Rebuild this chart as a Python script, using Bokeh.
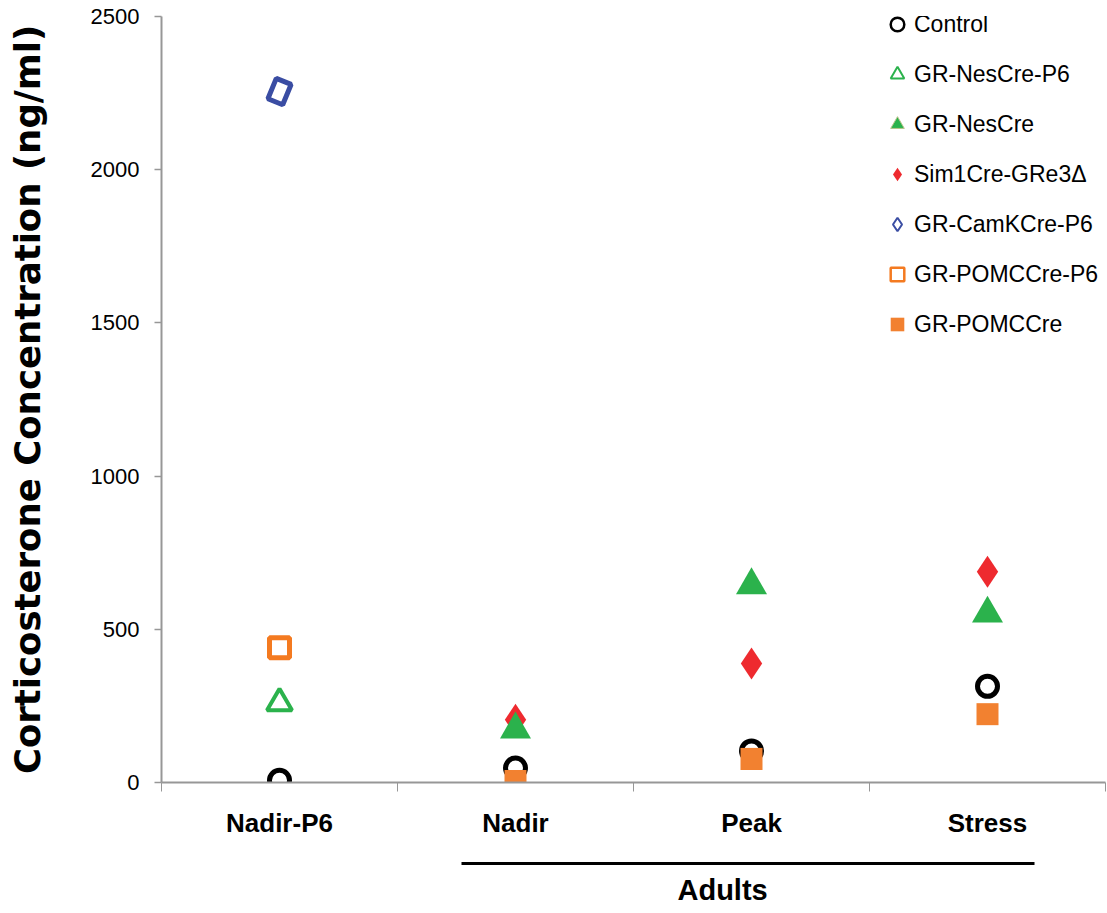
from bokeh.plotting import figure
from bokeh.models import (ColumnDataSource, FactorRange, Range1d, LinearAxis, CategoricalAxis,
                          SingleIntervalTicker, FixedTicker, Legend, LegendItem, Title)
from bokeh.embed import file_html
from bokeh.resources import INLINE

# ---------------- data ----------------
categories = ["Nadir-P6", "Nadir", "Peak", "Stress"]
adult_categories = ["Nadir", "Peak", "Stress"]
group_label = "Adults"
y_label = "Corticosterone Concentration (ng/ml)"
y_max = 2500
y_step = 500

control = [7, 47, 103, 314]
gr_nescre_p6 = [259, None, None, None]
gr_nescre = [None, 173, 644, 551]
sim1cre_gre3d = [None, 205, 388, 688]
gr_camkcre_p6 = [2255, None, None, None]
gr_pomccre_p6 = [440, None, None, None]
gr_pomccre = [None, 5, 77, 223]

series = [
    ("Control", control),
    ("GR-NesCre-P6", gr_nescre_p6),
    ("GR-NesCre", gr_nescre),
    ("Sim1Cre-GRe3\u0394", sim1cre_gre3d),
    ("GR-CamKCre-P6", gr_camkcre_p6),
    ("GR-POMCCre-P6", gr_pomccre_p6),
    ("GR-POMCCre", gr_pomccre),
]

FONT = "Liberation Sans"
GREEN = "#2BB24C"
RED = "#EE2A2F"
BLUE = "#3A4DA3"
ORANGE_O = "#F47A20"
ORANGE_F = "#F28130"
AXIS_GRAY = "#979797"

styles = {
    "Control": dict(marker="circle", size=20, fill_color="white", line_color="black", line_width=5),
    "GR-NesCre-P6": dict(marker="triangle", size=25, fill_color="white", line_color=GREEN, line_width=4),
    "GR-NesCre": dict(marker="triangle", size=31, fill_color=GREEN, line_color=None),
    "Sim1Cre-GRe3\u0394": dict(marker="diamond", size=32, fill_color=RED, line_color=None),
    "GR-CamKCre-P6": None,
    "GR-POMCCre-P6": dict(marker="square", size=20, fill_color="white", line_color=ORANGE_O, line_width=5),
    "GR-POMCCre": dict(marker="square", size=22, fill_color=ORANGE_F, line_color=None),
}
legend_styles = {
    "Control": dict(marker="circle", fill_color="white", line_color="black", line_width=2.5),
    "GR-NesCre-P6": dict(marker="triangle", fill_color="white", line_color=GREEN, line_width=2),
    "GR-NesCre": dict(marker="triangle", fill_color=GREEN, line_color="#B8C48A", line_width=1),
    "Sim1Cre-GRe3\u0394": dict(marker="diamond", fill_color=RED, line_color=None),
    "GR-CamKCre-P6": dict(marker="diamond", fill_color="white", line_color=BLUE, line_width=2),
    "GR-POMCCre-P6": dict(marker="square", fill_color="white", line_color=ORANGE_O, line_width=2.5),
    "GR-POMCCre": dict(marker="square", fill_color=ORANGE_F, line_color=None),
}
draw_order = ["Control", "GR-CamKCre-P6", "GR-POMCCre-P6", "GR-NesCre-P6",
              "Sim1Cre-GRe3\u0394", "GR-NesCre", "GR-POMCCre"]


def make_source(vals):
    xs = [c for c, v in zip(categories, vals) if v is not None]
    ys = [v for v in vals if v is not None]
    return ColumnDataSource(dict(x=xs, y=ys))


p = figure(width=1107, height=913, output_backend="svg", toolbar_location=None,
           x_range=FactorRange(*categories), y_range=Range1d(0, y_max),
           x_axis_type=None, y_axis_type=None,
           min_border_left=161, min_border_right=2, min_border_top=16, min_border_bottom=130)
p.outline_line_color = None
p.xgrid.visible = False
p.ygrid.visible = False
p.background_fill_color = "white"
p.border_fill_color = "white"

# ---------- y axis ----------
yax = LinearAxis(ticker=SingleIntervalTicker(interval=y_step, num_minor_ticks=0))
yax.axis_label = y_label
yax.axis_label_text_font = "DejaVu Sans"
yax.axis_label_text_font_style = "bold"
yax.axis_label_text_font_size = "35.5px"
yax.axis_label_text_color = "black"
yax.axis_label_standoff = 40
yax.major_label_text_font = FONT
yax.major_label_text_font_size = "22px"
yax.major_label_text_color = "black"
yax.major_label_standoff = 15
yax.axis_line_color = AXIS_GRAY
yax.axis_line_width = 2
yax.major_tick_line_color = AXIS_GRAY
yax.major_tick_line_width = 1.5
yax.major_tick_out = 7
yax.major_tick_in = 0
yax.minor_tick_line_color = None
p.add_layout(yax, "left")

# ---------- x axis ----------
n = len(categories)
boundaries = list(range(n + 1))  # synthetic category boundaries

# gray rule with tick marks at category boundaries
xticks = LinearAxis(ticker=FixedTicker(ticks=[], minor_ticks=boundaries))
xticks.axis_line_color = AXIS_GRAY
xticks.axis_line_width = 2
xticks.major_tick_out = 9
xticks.major_tick_in = 0
xticks.major_tick_line_color = None
xticks.minor_tick_line_color = AXIS_GRAY
xticks.minor_tick_line_width = 1
xticks.minor_tick_out = 9
xticks.minor_tick_in = 0
xticks.major_label_standoff = 0
p.add_layout(xticks, "below")

# category labels
xcat = CategoricalAxis()
xcat.axis_line_color = None
xcat.major_tick_line_color = None
xcat.minor_tick_line_color = None
xcat.major_tick_out = 0
xcat.major_label_text_font = FONT
xcat.major_label_text_font_style = "bold"
xcat.major_label_text_font_size = "26px"
xcat.major_label_text_color = "black"
xcat.major_label_standoff = 16
p.add_layout(xcat, "below")

# spacer (invisible ticks; only reserves room)
spacer = LinearAxis(ticker=FixedTicker(ticks=[], minor_ticks=boundaries))
spacer.axis_line_color = None
spacer.major_tick_line_color = None
spacer.minor_tick_line_color = None
spacer.major_tick_out = 23
spacer.major_tick_in = 0
spacer.minor_tick_out = 23
spacer.minor_tick_in = 0
spacer.major_label_standoff = 0
p.add_layout(spacer, "below")

# black bracket line under the adult categories
first = categories.index(adult_categories[0])
last = categories.index(adult_categories[-1])
bracket = LinearAxis(ticker=FixedTicker(ticks=[]), bounds=(first + 0.27, last + 0.70))
bracket.axis_line_color = "black"
bracket.axis_line_width = 3
bracket.major_tick_line_color = None
bracket.minor_tick_line_color = None
bracket.major_tick_out = 0
bracket.major_label_standoff = 0
p.add_layout(bracket, "below")

adults = Title(text=group_label, align="left", offset=516, standoff=16,
               text_font=FONT, text_font_style="bold", text_font_size="29px",
               text_color="black")
p.add_layout(adults, "below")

# ---------- legend glyphs (tiny, hidden beneath the data markers) ----------
sources = {name: make_source(vals) for name, vals in series}
legend_renderers = {}
for name, _ in series:
    legend_renderers[name] = p.scatter("x", "y", source=sources[name], size=1,
                                       **legend_styles[name])

# ---------- data markers ----------
for name in draw_order:
    st = styles[name]
    if name == "GR-CamKCre-P6":
        p.rect("x", "y", source=sources[name], width=16, height=22,
               width_units="screen", height_units="screen", angle=-0.39,
               fill_color="white", line_color=BLUE, line_width=5)
    else:
        p.scatter("x", "y", source=sources[name], **st)

items = [LegendItem(label=name, renderers=[legend_renderers[name]]) for name, _ in series]
legend = Legend(items=items, location=(719, 441),
                glyph_width=34, glyph_height=34, spacing=16, padding=0, margin=0,
                label_standoff=0, label_text_font=FONT, label_text_font_size="23px",
                label_text_color="black", border_line_color=None, background_fill_alpha=0)
p.add_layout(legend)

open("out.html", "w").write(file_html(p, INLINE))
